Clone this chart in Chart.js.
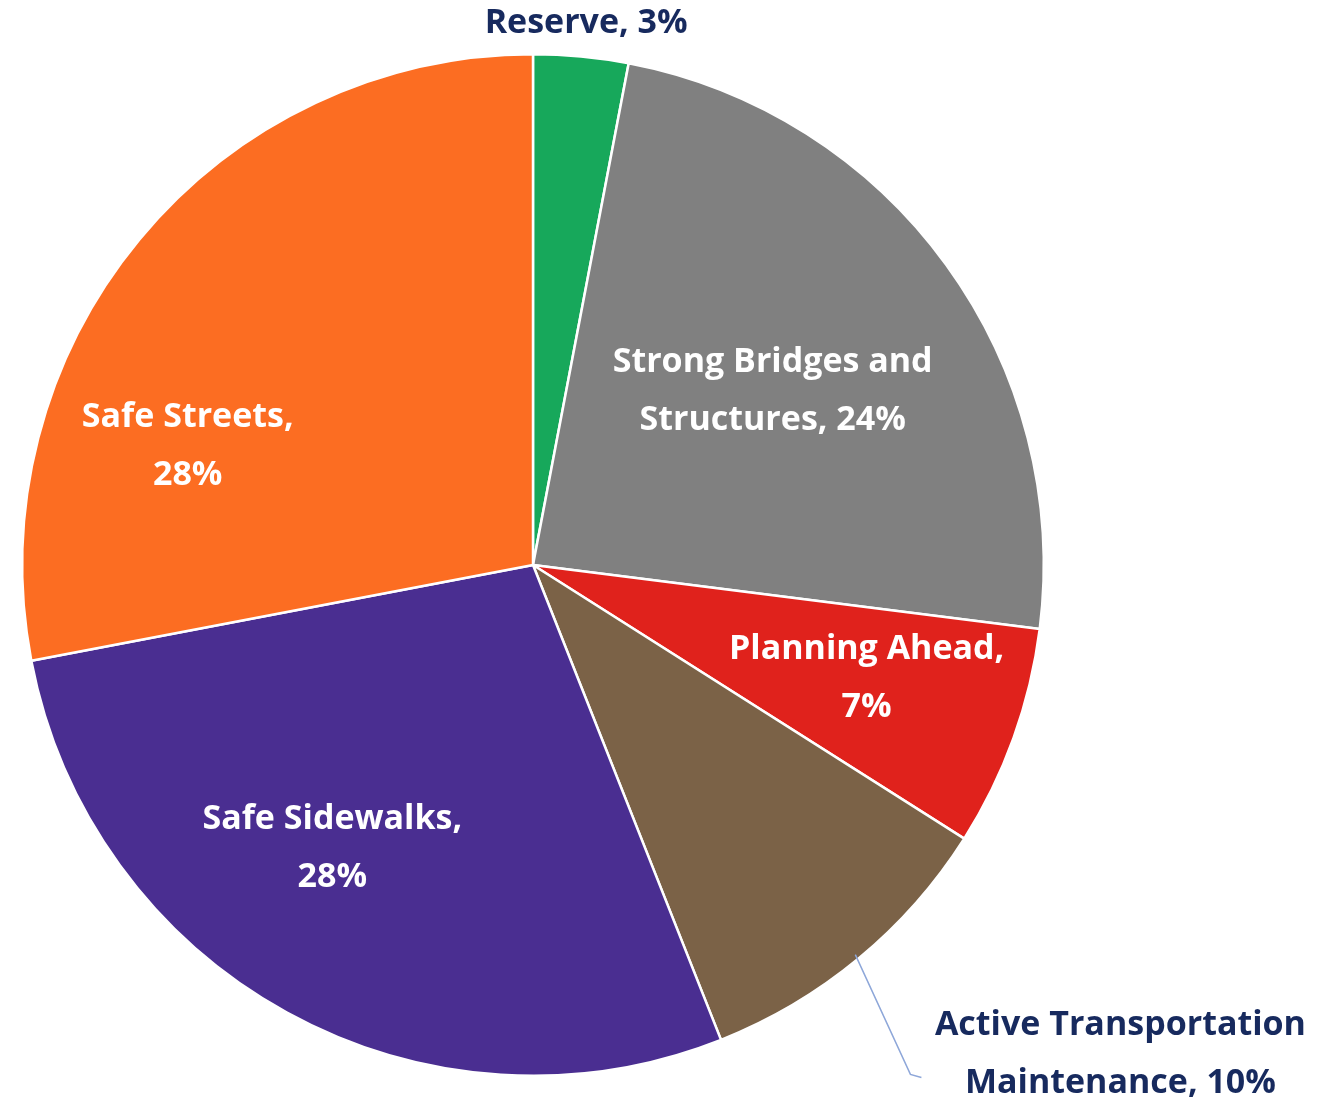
<!DOCTYPE html>
<html lang="en">
  <head>
    <meta charset="UTF-8" />
    <title>Funding Split</title>
    <script src="https://cdn.jsdelivr.net/npm/chart.js"></script>
    <style>
      * {
        margin: 0;
        padding: 0;
        box-sizing: border-box;
      }
      body {
        background: #ffffff;
        width: 1327px;
        height: 1104px;
        overflow: hidden;
      }
      .chart-box {
        position: relative;
        width: 1327px;
        height: 1104px;
      }
    </style>
  </head>
  <body>
    <div class="chart-box">
      <canvas id="pieChart"></canvas>
    </div>

    <script>
      // slices, clockwise from 12 o'clock
      const categories = [
        "Reserve",
        "Strong Bridges and Structures",
        "Planning Ahead",
        "Active Transportation Maintenance",
        "Safe Sidewalks",
        "Safe Streets",
      ];
      const shares = [3, 24, 7, 10, 28, 28];
      const sliceColors = [
        "#17a85b",
        "#808080",
        "#e0221c",
        "#7b6247",
        "#4a2e91",
        "#fc6d22",
      ];
      // label lines as printed on the chart
      const labelLines = [
        ["Reserve, 3%"],
        ["Strong Bridges and", "Structures, 24%"],
        ["Planning Ahead,", "7%"],
        ["Active Transportation", "Maintenance, 10%"],
        ["Safe Sidewalks,", "28%"],
        ["Safe Streets,", "28%"],
      ];

      // where each label sits: degrees off the slice middle, fraction of radius
      const labelPlace = [
        { turn: 0.2, dist: 1.066, color: "#172a5e" },
        { turn: 0, dist: 0.58, color: "#ffffff" },
        { turn: -1, dist: 0.69, color: "#ffffff" },
        { turn: -10.6, dist: 1.497, color: "#172a5e", leader: true },
        { turn: 6.5, dist: 0.68, color: "#ffffff" },
        { turn: -20.6, dist: 0.715, color: "#ffffff" },
      ];

      const sliceLabels = {
        id: "sliceLabels",
        afterDatasetsDraw(chart) {
          const ctx = chart.ctx;
          const meta = chart.getDatasetMeta(0);
          ctx.save();
          ctx.font = "bold 34px 'Open Sans', sans-serif";
          ctx.textAlign = "center";
          ctx.textBaseline = "middle";
          meta.data.forEach(function (arc, i) {
            const p = labelPlace[i];
            const mid = (arc.startAngle + arc.endAngle) / 2;
            const a = mid + (p.turn * Math.PI) / 180;
            const r = arc.outerRadius * p.dist;
            const x = arc.x + Math.cos(a) * r;
            const y = arc.y + Math.sin(a) * r;

            if (p.leader) {
              // thin line from the slice edge to the outside label
              ctx.strokeStyle = "#8ea7d9";
              ctx.lineWidth = 1.5;
              ctx.beginPath();
              ctx.moveTo(
                arc.x + Math.cos(mid) * arc.outerRadius * 0.99,
                arc.y + Math.sin(mid) * arc.outerRadius * 0.99
              );
              ctx.lineTo(x - 210, y + 20);
              ctx.lineTo(x - 199, y + 23);
              ctx.stroke();
            }

            const lines = labelLines[i];
            const gap = 58;
            ctx.fillStyle = p.color;
            lines.forEach(function (txt, k) {
              const ly = y + (k - (lines.length - 1) / 2) * gap;
              ctx.fillText(txt, x, ly);
            });
          });
          ctx.restore();
        },
      };

      new Chart(document.getElementById("pieChart"), {
        type: "pie",
        data: {
          labels: categories,
          datasets: [
            {
              data: shares,
              backgroundColor: sliceColors,
              borderColor: "#ffffff",
              borderWidth: 2.5,
            },
          ],
        },
        options: {
          responsive: true,
          maintainAspectRatio: false,
          animation: false,
          layout: {
            padding: { left: 21, right: 282, top: 53, bottom: 27 },
          },
          plugins: {
            legend: { display: false },
            tooltip: { enabled: false },
          },
        },
        plugins: [sliceLabels],
      });
    </script>
  </body>
</html>
